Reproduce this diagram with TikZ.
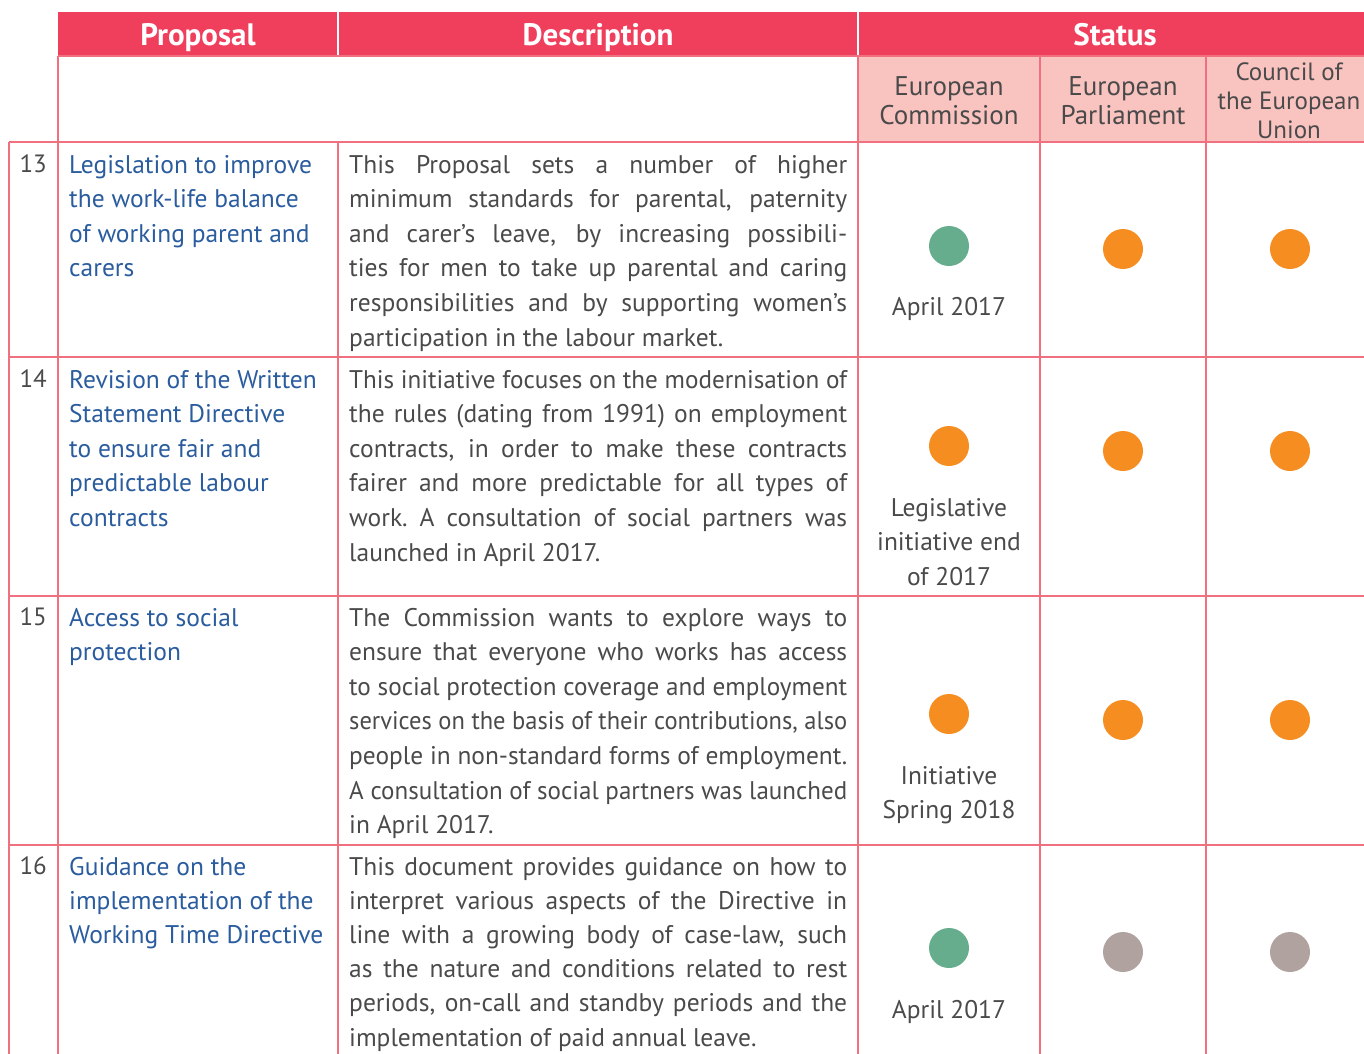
\documentclass[tikz,border=0pt]{standalone}
\usepackage{fontspec}
\usepackage{graphicx}
\setmainfont{PT Sans}
\definecolor{hdred}{HTML}{EF3F5C}
\definecolor{subpink}{HTML}{F9C3C0}
\definecolor{rule}{HTML}{F0707F}
\definecolor{ttlblue}{HTML}{2A5C9E}
\definecolor{txtgray}{HTML}{4A4A4A}
\definecolor{dotgreen}{HTML}{66AD8D}
\definecolor{dotorange}{HTML}{F58D21}
\definecolor{dotgray}{HTML}{B0A29E}
\newcommand\DL[1]{\setbox0=\hbox{#1}\ifdim\wd0>498pt
  \hbox to 498pt{\resizebox{498pt}{\height}{#1}}\else\hbox to 498pt{#1}\fi}
\newcommand\LL[1]{\hbox to 498pt{#1\hfil}}
\newcommand\TL[1]{\hbox{#1}}
\newcommand\CL[1]{\hbox to 180pt{\hfil#1\hfil}}
\tikzset{
  hdtext/.style={text=white, font=\bfseries\fontsize{31}{34}\selectfont, anchor=base, inner sep=0pt},
  subtext/.style={text=txtgray, font=\fontsize{27}{29.5}\selectfont, anchor=base, inner sep=0pt, align=center},
  subtextsm/.style={subtext, font=\fontsize{25}{29.5}\selectfont},
  numtext/.style={text=txtgray, font=\fontsize{25}{34.6}\selectfont, anchor=base east, inner sep=0pt},
  ttltext/.style={text=ttlblue, font=\fontsize{25.5}{34.6}\selectfont, anchor=base west, inner sep=0pt},
  desctext/.style={text=txtgray, font=\fontsize{25.5}{34.6}\selectfont, anchor=base west, inner sep=0pt},
  stattext/.style={text=txtgray, font=\fontsize{25.5}{34.6}\selectfont, anchor=base, inner sep=0pt},
  gridline/.style={draw=rule, line width=1.6pt},
  dot/.style={circle, inner sep=0pt, minimum size=40pt, draw=none},
}
\begin{document}
\begin{tikzpicture}[x=1pt,y=-1pt]
\useasboundingbox (0,0) rectangle (1364,1053);
\clip (0,0) rectangle (1364,1053);
% header bar
\fill[hdred] (58,12) rectangle (1364,56);
\draw[white, line width=1.5pt] (338,12) -- (338,56) (858,12) -- (858,56);
% sub header pink cells
\fill[subpink] (858,56) rectangle (1364,142);
% grid
\draw[gridline] (58,56) -- (1364,56);
\draw[gridline] (58,56) -- (58,1060);
\draw[gridline] (858,56) -- (858,1060);
\draw[gridline] (1040,56) -- (1040,1060);
\draw[gridline] (1206,56) -- (1206,1060);
\draw[gridline] (338,142) -- (338,1060);
\draw[gridline] (9,142) -- (9,1060);
\foreach \yy in {142,357,596,845} \draw[gridline] (9,\yy) -- (1370,\yy);
% header texts
\node[hdtext] (hProp) at (198,45) {Proposal};
\node[hdtext] (hDesc) at (598,45) {Description};
\node[hdtext] (hStat) at (1115,45) {Status};
\node[subtext] (sEC) at (949,95) {European};
\node[subtext] (sEC2) at (949,124.5) {Commission};
\node[subtext] (sEP) at (1123,95) {European};
\node[subtext] (sEP2) at (1123,124.5) {Parliament};
\node[subtextsm] (sCo) at (1289,80) {Council of};
\node[subtextsm] (sCo2) at (1289,109.5) {the European};
\node[subtextsm] (sCo3) at (1289,138.5) {Union};
% row 13
\node[numtext] (n13) at (47,172) {13};
\node[ttltext] (t13) at (69,173) {\vtop{\baselineskip=34.6pt
  \TL{Legislation to improve}\TL{the work-life balance}\TL{of working parent and}\TL{carers}}};
\node[desctext] (d13) at (349,173) {\vtop{\baselineskip=34.6pt
  \DL{This Proposal sets a number of higher}
  \DL{minimum standards for parental, paternity}
  \DL{and carer’s leave, by increasing possibili-}
  \DL{ties for men to take up parental and caring}
  \DL{responsibilities and by supporting women’s}
  \LL{participation in the labour market.}}};
\node[dot, fill=dotgreen] (c13a) at (949,246) {};
\node[dot, fill=dotorange] (c13b) at (1123,249) {};
\node[dot, fill=dotorange] (c13c) at (1290,249) {};
\node[stattext] (s13) at (949,315) {April 2017};
% row 14
\node[numtext] (n14) at (47,387) {14};
\node[ttltext] (t14) at (69,388) {\vtop{\baselineskip=34.6pt
  \TL{Revision of the Written}\TL{Statement Directive}\TL{to ensure fair and}\TL{predictable labour}\TL{contracts}}};
\node[desctext] (d14) at (349,388) {\vtop{\baselineskip=34.6pt
  \DL{This initiative focuses on the modernisation of}
  \DL{the rules (dating from 1991) on employment}
  \DL{contracts, in order to make these contracts}
  \DL{fairer and more predictable for all types of}
  \DL{work.\ A consultation of social partners was}
  \LL{launched in April 2017.}}};
\node[dot, fill=dotorange] (c14a) at (949,446) {};
\node[dot, fill=dotorange] (c14b) at (1123,451) {};
\node[dot, fill=dotorange] (c14c) at (1290,451) {};
\node[stattext] (s14) at (949,516) {\vtop{\baselineskip=34.6pt
  \CL{Legislative}\CL{initiative end}\CL{of 2017}}};
% row 15
\node[numtext] (n15) at (47,625) {15};
\node[ttltext] (t15) at (69,626) {\vtop{\baselineskip=34.6pt
  \TL{Access to social}\TL{protection}}};
\node[desctext] (d15) at (349,626) {\vtop{\baselineskip=34.6pt
  \DL{The Commission wants to explore ways to}
  \DL{ensure that everyone who works has access}
  \DL{to social protection coverage and employment}
  \DL{services on the basis of their contributions, also}
  \DL{people in non-standard forms of employment.}
  \DL{A consultation of social partners was launched}
  \LL{in April 2017.}}};
\node[dot, fill=dotorange] (c15a) at (949,714) {};
\node[dot, fill=dotorange] (c15b) at (1123,720) {};
\node[dot, fill=dotorange] (c15c) at (1290,720) {};
\node[stattext] (s15) at (949,784) {\vtop{\baselineskip=34.6pt
  \CL{Initiative}\CL{Spring 2018}}};
% row 16
\node[numtext] (n16) at (47,874) {16};
\node[ttltext] (t16) at (69,875) {\vtop{\baselineskip=34.4pt
  \TL{Guidance on the}\TL{implementation of the}\TL{Working Time Directive}}};
\node[desctext] (d16) at (349,875) {\vtop{\baselineskip=34.2pt
  \DL{This document provides guidance on how to}
  \DL{interpret various aspects of the Directive in}
  \DL{line with a growing body of case-law, such}
  \DL{as the nature and conditions related to rest}
  \DL{periods, on-call and standby periods and the}
  \LL{implementation of paid annual leave.}}};
\node[dot, fill=dotgreen] (c16a) at (949,948) {};
\node[dot, fill=dotgray] (c16b) at (1123,952) {};
\node[dot, fill=dotgray] (c16c) at (1290,952) {};
\node[stattext] (s16) at (949,1018) {April 2017};
\end{tikzpicture}
\end{document}
